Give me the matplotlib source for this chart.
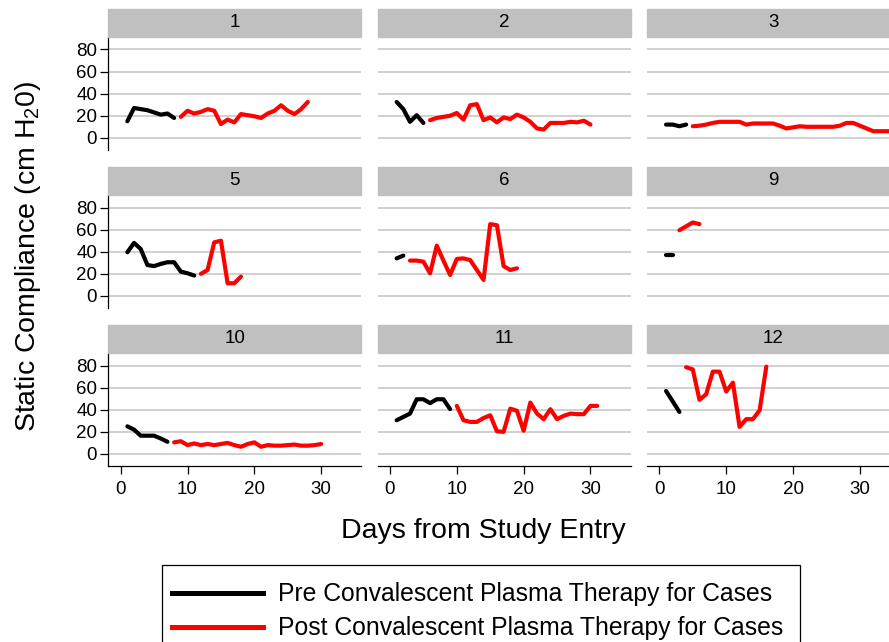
import numpy as np
import matplotlib
matplotlib.use('Agg')
import matplotlib.pyplot as plt
from matplotlib.patches import Rectangle
from matplotlib.lines import Line2D

plt.rcParams['font.family'] = ['Liberation Sans', 'DejaVu Sans']
plt.rcParams['mathtext.default'] = 'regular'

W, H = 889, 642  # pixel size of the figure

# patient ids shown in the strips
panels = ['1', '2', '3', '5', '6', '9', '10', '11', '12']

# static compliance per day, pre / post plasma therapy
pre_days_1 = list(range(1, 9))
pre_vals_1 = [15, 27, 26, 25, 23, 21, 22, 18]
post_days_1 = list(range(9, 29))
post_vals_1 = [19, 24.5, 22, 23.5, 26, 24.5, 12.5, 16.5, 14, 21.5, 20.5, 19.5, 18, 22,
               24.5, 29.5, 24.5, 21.5, 26, 32.5]

pre_days_2 = list(range(1, 6))
pre_vals_2 = [32.5, 26, 14.5, 20.5, 13.5]
post_days_2 = list(range(6, 31))
post_vals_2 = [16, 18, 19, 20, 22.5, 16.5, 29.5, 30.5, 16, 18.5, 14, 18.5, 17, 21, 18.5,
               14.5, 8.5, 7.5, 13.5, 13.5, 13.5, 14.5, 14, 15.5, 12]

pre_days_3 = list(range(1, 5))
pre_vals_3 = [12, 12, 10.5, 12]
post_days_3 = list(range(5, 36))
post_vals_3 = [10.5, 11, 12, 13.5, 14.5, 14.5, 14.5, 14.5, 12, 13, 13, 13, 13, 11, 8.5,
               9.5, 10.5, 10, 10, 10, 10, 10, 11, 13.5, 13.5, 11, 8.5, 6, 6, 6, 6]

pre_days_5 = list(range(1, 12))
pre_vals_5 = [39.5, 48, 42.5, 28, 27, 29, 30.5, 30.5, 22, 20.5, 18.5]
post_days_5 = list(range(12, 19))
post_vals_5 = [20, 23.5, 48.5, 50, 11.5, 11.5, 17.5]

pre_days_6 = [1, 2]
pre_vals_6 = [34, 36.5]
post_days_6 = list(range(3, 20))
post_vals_6 = [32, 32, 31, 20.5, 45.5, 32, 19, 33.5, 34, 32.5, 23.5, 14.5, 65, 64, 27,
               23.5, 25]

pre_days_9 = [1, 2]
pre_vals_9 = [37, 37]
post_days_9 = [3, 4, 5, 6]
post_vals_9 = [59.5, 63, 66.5, 65]

pre_days_10 = list(range(1, 8))
pre_vals_10 = [25, 22, 16.5, 16.5, 16.5, 14, 11]
post_days_10 = list(range(8, 31))
post_vals_10 = [10.5, 11.5, 8, 9.5, 8, 9, 8, 9, 10, 8, 6.5, 9, 10.5, 6.5, 8, 7.5, 7.5,
                8, 8.5, 7.5, 7.5, 8, 9]

pre_days_11 = list(range(1, 10))
pre_vals_11 = [30.5, 33.5, 36.5, 49.5, 49.5, 46, 49.5, 49.5, 40.5]
post_days_11 = list(range(10, 32))
post_vals_11 = [43.5, 30.5, 29, 29, 32.5, 35, 20.5, 20, 41, 39, 21, 46.5, 36.5, 31.5,
                40.5, 31.5, 34.5, 36.5, 36, 36, 43.5, 43.5]

pre_days_12 = [1, 2, 3]
pre_vals_12 = [57, 47.5, 38]
post_days_12 = list(range(4, 17))
post_vals_12 = [78.5, 76.5, 49, 54, 74.5, 74.5, 56.5, 64.5, 24.5, 31.5, 31.5, 39.5, 79]

series = [
    (pre_days_1, pre_vals_1, post_days_1, post_vals_1),
    (pre_days_2, pre_vals_2, post_days_2, post_vals_2),
    (pre_days_3, pre_vals_3, post_days_3, post_vals_3),
    (pre_days_5, pre_vals_5, post_days_5, post_vals_5),
    (pre_days_6, pre_vals_6, post_days_6, post_vals_6),
    (pre_days_9, pre_vals_9, post_days_9, post_vals_9),
    (pre_days_10, pre_vals_10, post_days_10, post_vals_10),
    (pre_days_11, pre_vals_11, post_days_11, post_vals_11),
    (pre_days_12, pre_vals_12, post_days_12, post_vals_12),
]

x_ticks = [0, 10, 20, 30]
y_ticks = [0, 20, 40, 60, 80]
legend_labels = ['Pre Convalescent Plasma Therapy for Cases',
                 'Post Convalescent Plasma Therapy for Cases']


def px_box(left, top, width, height):
    return [left / W, 1 - (top + height) / H, width / W, height / H]


fig = plt.figure(figsize=(W / 100, H / 100), dpi=100)

col_left = [108.3, 377.6, 647.0]
row_top = [37.3, 195.4, 353.4]
pw, ph = 253.0, 112.7
strip_h = 27.7

for k, (name, (d0, v0, d1, v1)) in enumerate(zip(panels, series)):
    r, c = divmod(k, 3)
    ax = fig.add_axes(px_box(col_left[c], row_top[r], pw, ph))
    ax.set_xlim(-1.85, 36.0)
    ax.set_ylim(-11, 91)
    for y in y_ticks:
        ax.axhline(y, color='#c4c4c4', lw=1.1, zorder=0)
    ax.plot(d0, v0, color='black', lw=3.0, solid_capstyle='round', solid_joinstyle='round')
    ax.plot(d1, v1, color='#ff0000', lw=3.0, solid_capstyle='round', solid_joinstyle='round')

    for s in ['top', 'right']:
        ax.spines[s].set_visible(False)
    ax.spines['left'].set_visible(c == 0)
    ax.spines['bottom'].set_visible(r == 2)
    for s in ['left', 'bottom']:
        ax.spines[s].set_linewidth(0.9)

    ax.set_yticks(y_ticks)
    ax.set_xticks(x_ticks)
    ax.tick_params(axis='y', length=6, width=0.9, labelsize=13.5, pad=2,
                   left=(c == 0), labelleft=(c == 0))
    ax.tick_params(axis='x', length=6, width=0.9, labelsize=13.5, pad=5,
                   bottom=(r == 2), labelbottom=(r == 2))
    ax.set_facecolor('none')

    gap = 0.7 / ph
    sh = strip_h / ph
    ax.add_patch(Rectangle((0, 1 + gap), 1, sh, transform=ax.transAxes,
                           color='#c0c0c0', clip_on=False, zorder=3))
    ax.text(0.5, 1 + gap + sh / 2, name, transform=ax.transAxes, ha='center',
            va='center', fontsize=13.5, zorder=4)

fig.text(28 / W, 1 - 256 / H, 'Static Compliance (cm H$_2$0)', rotation=90,
         ha='center', va='center', fontsize=20.5)
fig.text(483 / W, 1 - 531 / H, 'Days from Study Entry', ha='center', va='center',
         fontsize=20.5)

# legend frame runs off the bottom edge of the figure, as in the original
fig.patches.append(Rectangle((162 / W, 1 - 662 / H), 638 / W, 97 / H,
                             transform=fig.transFigure, fill=False,
                             edgecolor='black', lw=0.9))
handles = [Line2D([], [], color='black', lw=3.6),
           Line2D([], [], color='#ff0000', lw=3.6)]
leg = fig.legend(handles, legend_labels, loc='upper left',
                 bbox_to_anchor=(162 / W, 1 - 572 / H), fontsize=17.8,
                 frameon=False, handlelength=3.65, handletextpad=0.62,
                 borderpad=0.42, labelspacing=0.4, borderaxespad=0)

fig.savefig('out.png', dpi=100)
